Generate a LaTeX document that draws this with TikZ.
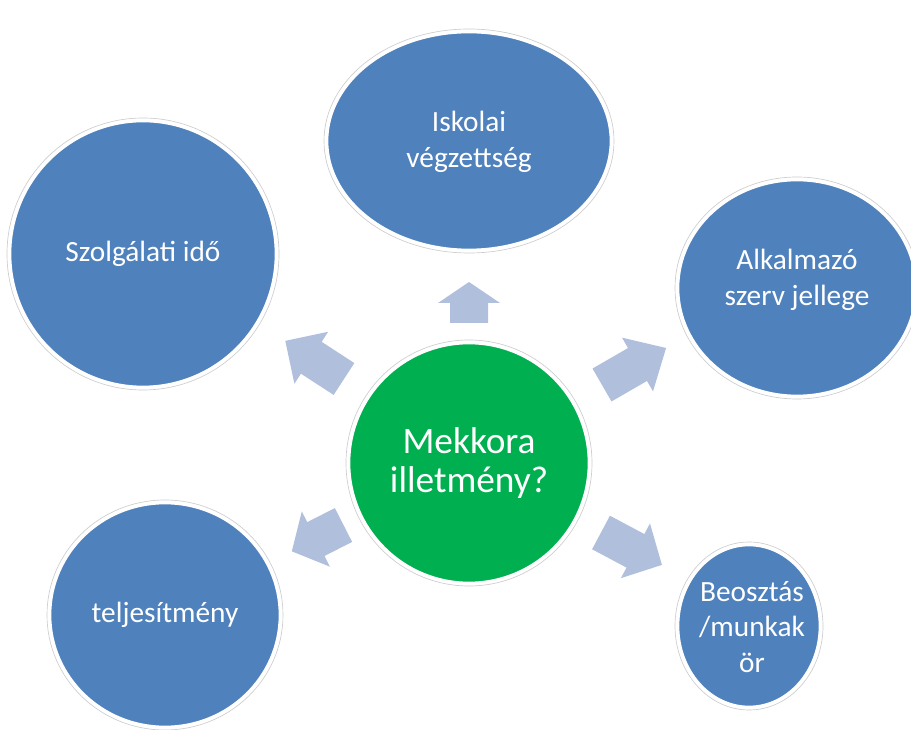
\documentclass[tikz,border=0pt]{standalone}
\usepackage{fontspec}
\setmainfont{Carlito}
\usetikzlibrary{shapes.geometric}

\definecolor{bubble}{RGB}{79,129,189}
\definecolor{hub}{RGB}{0,176,80}
\definecolor{pointer}{RGB}{176,192,220}
\definecolor{rim}{RGB}{205,205,205}

\tikzset{
  bubble/.style={ellipse, fill=bubble, draw=white, line width=2pt, inner sep=0pt,
    text=white, align=center, font=\fontsize{22}{26.5}\selectfont},
  hubstyle/.style={bubble, fill=hub, font=\fontsize{28}{29}\selectfont},
  rimline/.style={draw=rim, line width=0.5pt},
  label/.style={text=white, align=center, inner sep=0pt, font=\fontsize{22}{26.5}\selectfont},
  % block arrow: origin at the middle of the tail, shaft length / head length
  pics/pointer/.style args={#1/#2}{code={
    \fill[pointer] (0,-19) -- (#1,-19) -- (#1,-31) -- ({#1+#2},0)
      -- (#1,31) -- (#1,19) -- (0,19) -- cycle;}}
}

\begin{document}
\begin{tikzpicture}[x=0.75pt, y=-0.75pt]
  \useasboundingbox (0,0) rectangle (911,730);

  % thin grey rims just outside the white borders
  \foreach \cx/\cy/\rx/\ry in {143/254/136/136, 469/141/145/112, 797/288/122/111,
                               165/615/118/115, 749/626/74/84, 469/463/123/123}
    \draw[rimline] (\cx,\cy) ellipse [x radius=\rx, y radius=\ry];

  % outer bubbles
  \node[bubble, minimum width=199.5pt, minimum height=199.5pt] (szolg) at (143,254) {Szolgálati idő};
  \node[bubble, minimum width=213pt, minimum height=163.5pt] (iskola) at (469,141) {};
  \node[label] (iskolatext) at (469,142) {Iskolai\\végzettség};
  \node[bubble, minimum width=178.5pt, minimum height=162pt] (alkalm) at (797,288) {};
  \node[label] (alkalmtext) at (797,280) {Alkalmazó\\szerv jellege};
  \node[bubble, minimum width=106.5pt, minimum height=121.5pt] (beo) at (749,626) {};
  \node[label] (beotext) at (752,627) {Beosztás\\/munkak\\ör};
  \node[bubble, minimum width=172.5pt, minimum height=168pt] (telj) at (165,615) {teljesítmény};

  % central question
  \node[hubstyle, minimum width=180pt, minimum height=180pt] (hub) at (469,463) {Mekkora\\illetmény?};

  % block arrows from the centre towards each bubble
  \pic[rotate=90]  at (469,323)   {pointer=20/21};
  \pic[rotate=30]  at (602,385)   {pointer=41/33};
  \pic[rotate=147] at (344,379)   {pointer=39/31};
  \pic[rotate=207] at (343.5,525) {pointer=31/27};
  \pic[rotate=-28] at (601,532.5) {pointer=39/30};
\end{tikzpicture}
\end{document}
